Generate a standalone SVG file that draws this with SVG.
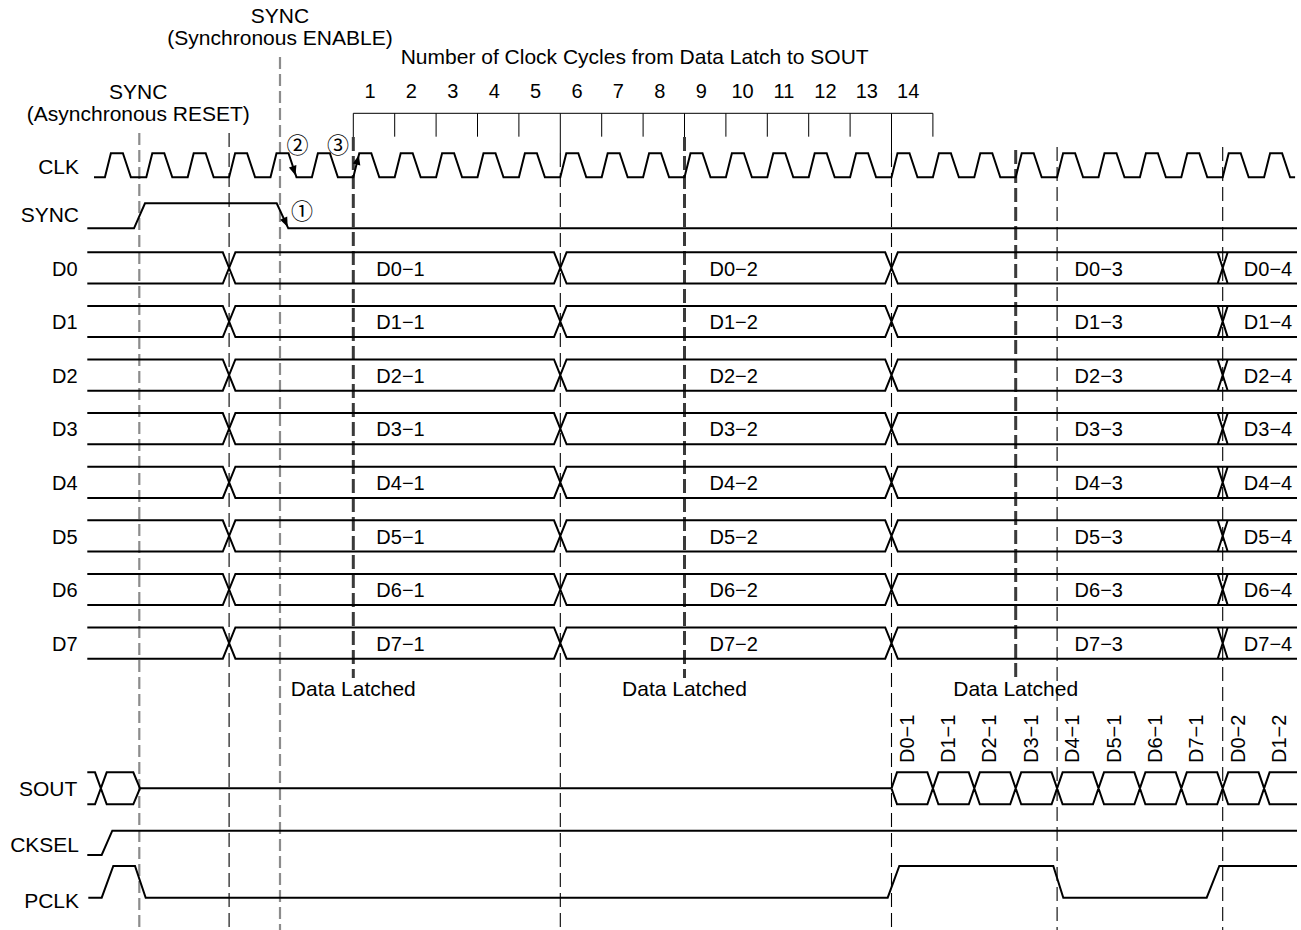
<svg xmlns="http://www.w3.org/2000/svg" width="1301" height="930" viewBox="0 0 1301 930">
<style>
text{font-family:"Liberation Sans",Arial,sans-serif;fill:#000}
.lbl{font-size:21px}
.dl{font-size:20px}
.ck{font-family:"Noto Sans CJK JP",sans-serif;font-size:22px}
.w{fill:none;stroke:#000;stroke-width:2;stroke-linejoin:miter}
.thin{fill:none;stroke:#000;stroke-width:1}
.gd{fill:none;stroke:#8c8c8c;stroke-width:2.2;stroke-dasharray:12 5}
.bd{fill:none;stroke:#000;stroke-width:1.1;stroke-dasharray:14 6}
.kd{fill:none;stroke:#3a3a3a;stroke-width:3;stroke-dasharray:14 5}
</style>
<rect width="1301" height="930" fill="#fff"/>

<g id="guides">
<path class="gd" d="M139.3,133V930M280,57V930"/>
<path class="bd" d="M229.1,133V930M560.3,153V930M891.5,153V930M1057.1,147V930M1222.7,147V930"/>
<path class="kd" d="M353.3,137V678M684.5,137V678M1015.7,150V678"/>
</g>

<g id="titles">
<text class="lbl" x="280" y="22.7" text-anchor="middle">SYNC</text>
<text class="lbl" x="280" y="45" text-anchor="middle">(Synchronous ENABLE)</text>
<text class="lbl" x="138.3" y="99.3" text-anchor="middle">SYNC</text>
<text class="lbl" x="138.3" y="121" text-anchor="middle">(Asynchronous RESET)</text>
<text class="lbl" x="400.7" y="64">Number of Clock Cycles from Data Latch to SOUT</text>
</g>

<g id="cycle-scale">
<path class="thin" d="M353.3,113.3H932.9M353.3,113.3V137M394.7,113.3V136.7M436.1,113.3V136.7M477.5,113.3V136.7M518.9,113.3V136.7M560.3,113.3V153M601.7,113.3V136.7M643.1,113.3V136.7M684.5,113.3V137M725.9,113.3V136.7M767.3,113.3V136.7M808.7,113.3V136.7M850.1,113.3V136.7M891.5,113.3V153M932.9,113.3V136.7"/>
<g class="dl" text-anchor="middle">
<text x="370" y="98.3">1</text><text x="411.4" y="98.3">2</text><text x="452.8" y="98.3">3</text><text x="494.2" y="98.3">4</text><text x="535.6" y="98.3">5</text><text x="577" y="98.3">6</text><text x="618.4" y="98.3">7</text><text x="659.8" y="98.3">8</text><text x="701.2" y="98.3">9</text><text x="742.6" y="98.3">10</text><text x="784" y="98.3">11</text><text x="825.4" y="98.3">12</text><text x="866.8" y="98.3">13</text><text x="908.2" y="98.3">14</text>
</g>
</g>

<g id="clk">
<text class="lbl" x="79" y="174" text-anchor="end">CLK</text>
<path class="w" d="M94,177.3H104.9l6,-24h12l8,24h15.4l6,-24h12l8,24h15.4l6,-24h12l8,24h15.4l6,-24h12l8,24h15.4l6,-24h12l8,24h15.4l6,-24h12l8,24h15.4l6,-24h12l8,24h15.4l6,-24h12l8,24h15.4l6,-24h12l8,24h15.4l6,-24h12l8,24h15.4l6,-24h12l8,24h15.4l6,-24h12l8,24h15.4l6,-24h12l8,24h15.4l6,-24h12l8,24h15.4l6,-24h12l8,24h15.4l6,-24h12l8,24h15.4l6,-24h12l8,24h15.4l6,-24h12l8,24h15.4l6,-24h12l8,24h15.4l6,-24h12l8,24h15.4l6,-24h12l8,24h15.4l6,-24h12l8,24h15.4l6,-24h12l8,24h15.4l6,-24h12l8,24h15.4l6,-24h12l8,24h15.4l6,-24h12l8,24h15.4l6,-24h12l8,24h15.4l6,-24h12l8,24h15.4l6,-24h12l8,24h5"/>
<polygon points="295.5,175.5 296.4,164.9 288.9,167.4"/>
<polygon points="358.8,155 360.3,165.4 352.8,163.6"/>
<text class="ck" x="297.5" y="153.3" text-anchor="middle">②</text>
<text class="ck" x="338" y="153.3" text-anchor="middle">③</text>
</g>

<g id="sync">
<text class="lbl" x="79" y="221.7" text-anchor="end">SYNC</text>
<path class="w" d="M87.3,228.3H134L145,203.3H276.7L288.3,228.3H1297"/>
<polygon points="287.7,227 287.2,216.4 280.1,219.7"/>
<text class="ck" x="302" y="219" text-anchor="middle">①</text>
</g>

<g id="d0">
<text class="dl" x="77.7" y="275.7" text-anchor="end">D0</text>
<path class="w" d="M87.3,252.3H222.8L235.4,283.5H554L566.6,252.3H885.2L897.8,283.5H1297M87.3,283.5H222.8L235.4,252.3H554L566.6,283.5H885.2L897.8,252.3H1297M1217.7,252.3L1227.7,283.5M1217.7,283.5L1227.7,252.3"/>
<g class="dl" text-anchor="middle"><text x="400.5" y="275.7">D0−1</text><text x="733.7" y="275.7">D0−2</text><text x="1098.8" y="275.7">D0−3</text><text x="1268" y="275.7">D0−4</text></g>
</g>
<g id="d1" transform="translate(0,53.6)">
<text class="dl" x="77.7" y="275.7" text-anchor="end">D1</text>
<path class="w" d="M87.3,252.3H222.8L235.4,283.5H554L566.6,252.3H885.2L897.8,283.5H1297M87.3,283.5H222.8L235.4,252.3H554L566.6,283.5H885.2L897.8,252.3H1297M1217.7,252.3L1227.7,283.5M1217.7,283.5L1227.7,252.3"/>
<g class="dl" text-anchor="middle"><text x="400.5" y="275.7">D1−1</text><text x="733.7" y="275.7">D1−2</text><text x="1098.8" y="275.7">D1−3</text><text x="1268" y="275.7">D1−4</text></g>
</g>
<g id="d2" transform="translate(0,107.2)">
<text class="dl" x="77.7" y="275.7" text-anchor="end">D2</text>
<path class="w" d="M87.3,252.3H222.8L235.4,283.5H554L566.6,252.3H885.2L897.8,283.5H1297M87.3,283.5H222.8L235.4,252.3H554L566.6,283.5H885.2L897.8,252.3H1297M1217.7,252.3L1227.7,283.5M1217.7,283.5L1227.7,252.3"/>
<g class="dl" text-anchor="middle"><text x="400.5" y="275.7">D2−1</text><text x="733.7" y="275.7">D2−2</text><text x="1098.8" y="275.7">D2−3</text><text x="1268" y="275.7">D2−4</text></g>
</g>
<g id="d3" transform="translate(0,160.8)">
<text class="dl" x="77.7" y="275.7" text-anchor="end">D3</text>
<path class="w" d="M87.3,252.3H222.8L235.4,283.5H554L566.6,252.3H885.2L897.8,283.5H1297M87.3,283.5H222.8L235.4,252.3H554L566.6,283.5H885.2L897.8,252.3H1297M1217.7,252.3L1227.7,283.5M1217.7,283.5L1227.7,252.3"/>
<g class="dl" text-anchor="middle"><text x="400.5" y="275.7">D3−1</text><text x="733.7" y="275.7">D3−2</text><text x="1098.8" y="275.7">D3−3</text><text x="1268" y="275.7">D3−4</text></g>
</g>
<g id="d4" transform="translate(0,214.4)">
<text class="dl" x="77.7" y="275.7" text-anchor="end">D4</text>
<path class="w" d="M87.3,252.3H222.8L235.4,283.5H554L566.6,252.3H885.2L897.8,283.5H1297M87.3,283.5H222.8L235.4,252.3H554L566.6,283.5H885.2L897.8,252.3H1297M1217.7,252.3L1227.7,283.5M1217.7,283.5L1227.7,252.3"/>
<g class="dl" text-anchor="middle"><text x="400.5" y="275.7">D4−1</text><text x="733.7" y="275.7">D4−2</text><text x="1098.8" y="275.7">D4−3</text><text x="1268" y="275.7">D4−4</text></g>
</g>
<g id="d5" transform="translate(0,268)">
<text class="dl" x="77.7" y="275.7" text-anchor="end">D5</text>
<path class="w" d="M87.3,252.3H222.8L235.4,283.5H554L566.6,252.3H885.2L897.8,283.5H1297M87.3,283.5H222.8L235.4,252.3H554L566.6,283.5H885.2L897.8,252.3H1297M1217.7,252.3L1227.7,283.5M1217.7,283.5L1227.7,252.3"/>
<g class="dl" text-anchor="middle"><text x="400.5" y="275.7">D5−1</text><text x="733.7" y="275.7">D5−2</text><text x="1098.8" y="275.7">D5−3</text><text x="1268" y="275.7">D5−4</text></g>
</g>
<g id="d6" transform="translate(0,321.6)">
<text class="dl" x="77.7" y="275.7" text-anchor="end">D6</text>
<path class="w" d="M87.3,252.3H222.8L235.4,283.5H554L566.6,252.3H885.2L897.8,283.5H1297M87.3,283.5H222.8L235.4,252.3H554L566.6,283.5H885.2L897.8,252.3H1297M1217.7,252.3L1227.7,283.5M1217.7,283.5L1227.7,252.3"/>
<g class="dl" text-anchor="middle"><text x="400.5" y="275.7">D6−1</text><text x="733.7" y="275.7">D6−2</text><text x="1098.8" y="275.7">D6−3</text><text x="1268" y="275.7">D6−4</text></g>
</g>
<g id="d7" transform="translate(0,375.2)">
<text class="dl" x="77.7" y="275.7" text-anchor="end">D7</text>
<path class="w" d="M87.3,252.3H222.8L235.4,283.5H554L566.6,252.3H885.2L897.8,283.5H1297M87.3,283.5H222.8L235.4,252.3H554L566.6,283.5H885.2L897.8,252.3H1297M1217.7,252.3L1227.7,283.5M1217.7,283.5L1227.7,252.3"/>
<g class="dl" text-anchor="middle"><text x="400.5" y="275.7">D7−1</text><text x="733.7" y="275.7">D7−2</text><text x="1098.8" y="275.7">D7−3</text><text x="1268" y="275.7">D7−4</text></g>
</g>

<g id="latched" class="lbl" text-anchor="middle">
<text x="353.3" y="696">Data Latched</text>
<text x="684.5" y="696">Data Latched</text>
<text x="1015.7" y="696">Data Latched</text>
</g>

<g id="sout">
<text class="lbl" x="77.3" y="795.7" text-anchor="end">SOUT</text>
<path class="w" d="M87.3,772.3H95L106.7,804.3H133.3L140,788.3H891.5M87.3,804.3H95L106.7,772.3H133.3L140,788.3"/>
<path class="w" d="M891.5,788.3L897,772.3H927.4L938.4,804.3H968.8L979.8,772.3H1010.2L1021.2,804.3H1051.6L1062.6,772.3H1093L1104,804.3H1134.4L1145.4,772.3H1175.8L1186.8,804.3H1217.2L1228.2,772.3H1258.6L1269.6,804.3H1297M891.5,788.3L897,804.3H927.4L938.4,772.3H968.8L979.8,804.3H1010.2L1021.2,772.3H1051.6L1062.6,804.3H1093L1104,772.3H1134.4L1145.4,804.3H1175.8L1186.8,772.3H1217.2L1228.2,804.3H1258.6L1269.6,772.3H1297"/>
<g class="dl">
<text transform="translate(913.5,763) rotate(-90)">D0−1</text>
<text transform="translate(954.9,763) rotate(-90)">D1−1</text>
<text transform="translate(996.3,763) rotate(-90)">D2−1</text>
<text transform="translate(1037.7,763) rotate(-90)">D3−1</text>
<text transform="translate(1079.1,763) rotate(-90)">D4−1</text>
<text transform="translate(1120.5,763) rotate(-90)">D5−1</text>
<text transform="translate(1161.9,763) rotate(-90)">D6−1</text>
<text transform="translate(1203.3,763) rotate(-90)">D7−1</text>
<text transform="translate(1244.7,763) rotate(-90)">D0−2</text>
<text transform="translate(1286.1,763) rotate(-90)">D1−2</text>
</g>
</g>

<g id="cksel">
<text class="lbl" x="79" y="851.7" text-anchor="end">CKSEL</text>
<path class="w" d="M87.3,855H101.7L112.3,830.7H1297"/>
</g>

<g id="pclk">
<text class="lbl" x="79" y="908" text-anchor="end">PCLK</text>
<path class="w" d="M88.3,897.7H101.7L113.3,866H135L145.7,897.7H887.7L899.3,866H1053.3L1063.3,897.7H1206.7L1219.3,866H1297"/>
</g>
</svg>
